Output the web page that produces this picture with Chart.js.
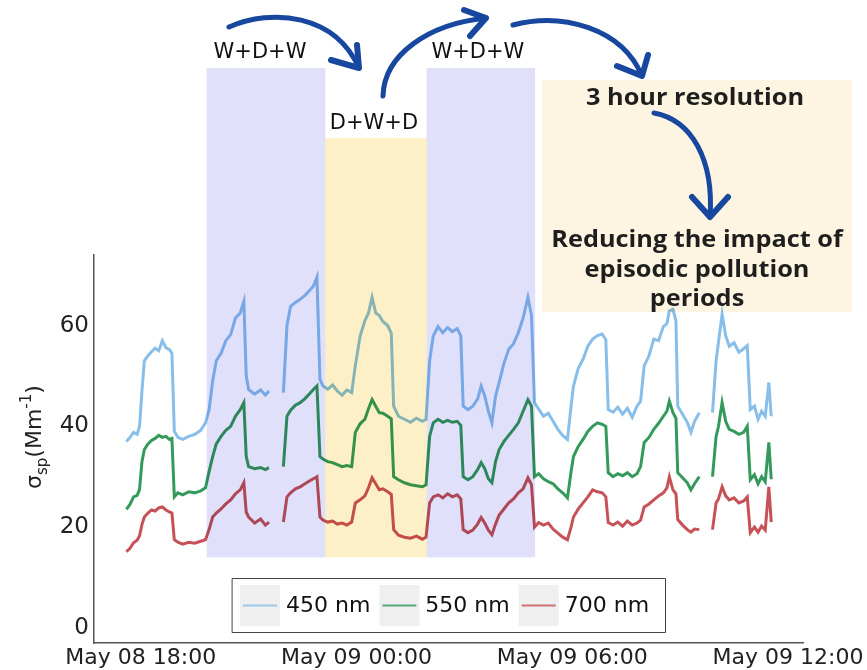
<!DOCTYPE html>
<html>
<head>
<meta charset="utf-8">
<script src="https://cdn.jsdelivr.net/npm/chart.js@4.4.0/dist/chart.umd.min.js"></script>
<style>
  html, body { margin: 0; padding: 0; background: #fff; }
</style>
</head>
<body>
<canvas id="grafico" width="867" height="670"></canvas>
<script>
// Minutos contados a partir de 08/05 18:00
const minutos = [
  -24, -18, -12, -6, -2, 2, 6, 12, 18, 24,
  30, 36, 42, 48, 52, 56, 62, 70, 80, 90,
  100, 108, 114, 120, 126, 134, 142, 150, 158, 166,
  172, 176, 180, 190, 200, 208, 214, 224, 238, 244,
  250, 258, 266, 274, 282, 288, 294, 299, 304, 312,
  320, 328, 336, 344, 352, 358, 366, 374, 380, 386,
  392, 398, 404, 412, 418, 422, 430, 440, 450, 460,
  470, 476, 482, 488, 496, 504, 512, 520, 528, 534,
  538, 546, 554, 562, 568, 574, 580, 586, 592, 598,
  606, 614, 622, 630, 638, 646, 652, 657, 664, 672,
  680, 688, 696, 704, 712, 718, 722, 730, 738, 746,
  754, 762, 770, 776, 780, 788, 796, 804, 812, 820,
  828, 834, 840, 848, 856, 864, 872, 878, 882, 888,
  893, 896, 904, 912, 918, 924, 932, 942, 954, 960,
  964, 970, 976, 982, 990, 998, 1006, 1012, 1017, 1024,
  1030, 1036, 1042, 1048, 1052
];

// Coeficiente de espalhamento (Mm-1) por comprimento de onda
const serie450 = [
  37.0, 37.8, 38.8, 38.4, 40.0, 47.0, 53.0, 54.0, 54.8, 55.5,
  55.0, 57.0, 55.6, 55.2, 54.5, 39.0, 37.8, 37.4, 38.0, 38.4,
  39.2, 40.7, 43.3, 49.0, 53.0, 54.5, 57.0, 58.2, 61.5, 62.5,
  64.8, 50.0, 47.3, 46.4, 47.2, 46.2, 47.0, null, 46.7, 60.0,
  63.8, 64.6, 65.2, 66.0, 67.0, 67.8, 69.6, 49.3, 48.0, 47.4,
  48.2, 47.0, 46.2, 47.2, 46.7, 52.0, 57.9, 61.0, 62.5, 65.6,
  62.5, 62.0, 60.8, 60.0, 58.5, 44.0, 42.0, 41.4, 40.8, 41.6,
  41.0, 41.4, 53.0, 57.9, 59.8, 58.6, 59.6, 58.8, 59.4, 58.0,
  44.0, 43.3, 44.0, 45.4, 48.0, 46.0, 43.0, 40.7, 46.0, 48.7,
  52.5, 55.3, 56.4, 58.6, 61.5, 65.6, 62.0, 44.7, 43.4, 42.0,
  42.6, 41.0, 39.4, 38.2, 37.4, 44.0, 48.0, 51.5, 53.3, 55.9,
  57.3, 58.0, 58.3, 57.2, 43.3, 42.8, 43.8, 42.4, 43.6, 41.8,
  44.0, 45.0, 52.0, 54.0, 57.3, 57.0, 59.8, 60.4, 62.9, 63.2,
  61.0, 44.0, 42.4, 40.8, 38.8, 41.0, 42.7, null, 42.7, 53.0,
  56.7, 62.2, 58.0, 55.9, 56.6, 54.7, 55.4, 56.0, 43.3, 44.0,
  41.4, 43.0, 42.0, 48.7, 42.0
];
const serie550 = [
  23.5, 24.5, 26.0, 26.3, 27.5, 33.0, 35.4, 36.5, 37.2, 37.6,
  38.2, 37.8, 38.0, 37.4, 37.6, 26.0, 26.8, 26.4, 27.0, 26.8,
  27.2, 27.8, 31.0, 34.0, 36.5, 38.0, 39.2, 40.0, 42.0, 43.3,
  44.7, 34.0, 32.0, 31.6, 31.8, 31.4, 31.8, null, 32.0, 42.0,
  43.2, 44.2, 44.7, 45.5, 46.5, 47.3, 48.0, 34.0, 33.5, 33.0,
  32.8, 32.4, 32.0, 32.2, 32.0, 38.8, 40.5, 41.4, 43.5, 45.3,
  44.0, 42.7, 42.6, 42.0, 41.5, 30.0, 29.4, 28.8, 28.4, 28.2,
  28.0, 28.4, 38.0, 40.7, 41.4, 40.8, 41.2, 40.8, 41.0, 40.2,
  30.0, 29.4, 30.0, 31.4, 32.8, 31.6, 29.6, 28.8, 33.0, 35.4,
  37.0, 38.2, 39.4, 40.7, 43.0, 45.3, 44.0, 30.0, 30.6, 29.6,
  29.0, 28.6, 27.6, 26.8, 25.8, 31.0, 34.0, 36.0, 37.4, 39.0,
  40.0, 40.7, 40.4, 40.0, 30.8, 30.0, 30.6, 30.2, 30.8, 30.0,
  30.6, 32.0, 36.8, 37.8, 39.4, 40.6, 42.0, 43.0, 45.0, 42.7,
  41.6, 30.8, 29.8, 28.8, 27.4, 28.6, 30.0, null, 30.0, 38.0,
  40.0, 44.7, 41.0, 39.4, 39.0, 38.4, 38.8, 40.0, 29.4, 30.4,
  28.6, 30.0, 29.0, 36.8, 29.5
];
const serie700 = [
  15.1, 15.8, 16.9, 17.4, 18.3, 20.5, 22.0, 22.8, 23.4, 23.2,
  23.8, 24.0, 23.4, 23.0, 22.8, 17.5, 17.0, 16.6, 17.0, 16.8,
  17.2, 17.5, 19.5, 22.0, 22.8, 23.6, 24.6, 25.4, 26.6, 27.4,
  28.8, 23.0, 22.0, 20.8, 21.6, 20.4, 21.0, null, 21.0, 26.0,
  26.8, 27.6, 28.0, 28.6, 29.2, 29.6, 30.0, 22.0, 21.4, 21.0,
  21.2, 20.6, 20.8, 20.4, 21.0, 24.8, 25.4, 26.2, 27.8, 29.8,
  28.6, 27.4, 27.6, 27.0, 26.5, 19.5, 18.4, 18.0, 17.8, 18.2,
  17.6, 18.0, 24.8, 26.0, 26.4, 25.8, 26.6, 26.0, 26.4, 25.6,
  19.5, 18.9, 19.4, 20.6, 21.9, 20.8, 19.4, 18.5, 20.6, 22.4,
  23.6, 24.8, 25.6, 26.8, 27.6, 29.8, 28.4, 20.0, 20.9, 20.4,
  20.8, 19.6, 18.8, 18.0, 17.5, 20.0, 22.0, 23.6, 24.8, 26.0,
  27.4, 27.0, 26.8, 26.0, 20.9, 20.4, 21.0, 20.2, 21.2, 20.4,
  20.8, 21.4, 24.0, 24.6, 25.4, 26.2, 26.8, 27.8, 30.0, 27.4,
  26.6, 21.5, 20.4, 19.5, 19.0, 19.6, 19.5, null, 19.5, 24.8,
  25.6, 28.0, 26.2, 25.4, 25.8, 24.8, 25.2, 26.0, 18.9, 20.0,
  19.0, 20.2, 19.4, 28.0, 21.0
];

const nomesSeries = ['450 nm', '550 nm', '700 nm'];
const ticksX = [0, 360, 720, 1080];
const rotulosX = ['May 08 18:00', 'May 09 00:00', 'May 09 06:00', 'May 09 12:00'];
const ticksY = [0, 20, 40, 60];

// Janelas de 3 horas (minutos): W+D+W, D+W+D, W+D+W
const janelas = [[110, 308], [308, 477], [477, 658]];
const rotulosJanelas = ['W+D+W', 'D+W+D', 'W+D+W'];

const cores = ['rgb(135,191,234)', 'rgb(52,154,92)', 'rgb(198,82,88)'];
const coresLegenda = ['rgba(135,191,234,0.8)', 'rgba(52,154,92,0.8)', 'rgba(198,82,88,0.8)'];

const pontos = (serie) => serie.map((v, i) => ({ x: minutos[i], y: v }));

function seta(ctx, p0, c1, c2, p1, ponta1, ponta2) {
    ctx.lineWidth = 5;
    ctx.beginPath();
    ctx.moveTo(p0[0], p0[1]);
    ctx.bezierCurveTo(c1[0], c1[1], c2[0], c2[1], p1[0], p1[1]);
    ctx.stroke();
    ctx.lineWidth = 6;
    ctx.beginPath();
    ctx.moveTo(ponta1[0], ponta1[1]);
    ctx.lineTo(p1[0], p1[1]);
    ctx.lineTo(ponta2[0], ponta2[1]);
    ctx.stroke();
}

// texto centralizado e levemente alargado na horizontal
function textoLargo(ctx, texto, xc, yc) {
    ctx.save();
    ctx.translate(xc, yc);
    ctx.scale(1.1, 1);
    ctx.fillText(texto, 0, 0);
    ctx.restore();
}

const anotacoes = {
    id: 'anotacoes',
    afterDatasetsDraw(chart) {
        const { ctx, scales: { x, y } } = chart;
        const base = y.getPixelForValue(14);
        ctx.save();
        ctx.globalCompositeOperation = 'multiply';
        const preenchimentos = ['#e0e0fa', '#fdf0c6', '#e0e0fa'];
        const topos = [68, 138, 68];
        janelas.forEach((j, i) => {
            const x0 = x.getPixelForValue(j[0]);
            const x1 = x.getPixelForValue(j[1]);
            ctx.fillStyle = preenchimentos[i];
            ctx.fillRect(x0, topos[i], x1 - x0, base - topos[i]);
        });
        // caixa do texto da direita
        ctx.fillStyle = '#fdf5e2';
        ctx.fillRect(542, 80, 310, 232);
        ctx.restore();
    },
    afterDraw(chart) {
        const { ctx, scales: { x } } = chart;
        ctx.save();

        // rótulos das janelas
        ctx.fillStyle = '#111';
        ctx.font = '21px "DejaVu Sans"';
        ctx.textAlign = 'center';
        ctx.textBaseline = 'middle';
        const alturas = [53, 124, 53];
        const ajustes = [-6, -2, -3];
        janelas.forEach((j, i) => {
            const xc = (x.getPixelForValue(j[0]) + x.getPixelForValue(j[1])) / 2 + ajustes[i];
            ctx.fillText(rotulosJanelas[i], xc, alturas[i]);
        });

        // textos da caixa
        ctx.fillStyle = '#1e1e1e';
        ctx.font = 'bold 23px "Open Sans"';
        textoLargo(ctx, '3 hour resolution', 695, 98);
        textoLargo(ctx, 'Reducing the impact of', 697, 240);
        textoLargo(ctx, 'episodic pollution', 697, 270);
        textoLargo(ctx, 'periods', 697, 299);

        // setas
        ctx.strokeStyle = '#17479e';
        ctx.lineCap = 'round';
        ctx.lineJoin = 'round';
        seta(ctx, [229, 27], [272, 8], [335, 14], [359, 68], [331, 60], [357, 45]);
        seta(ctx, [383, 96], [384, 55], [428, 24], [486, 18], [464, 10], [470, 36]);
        seta(ctx, [513, 25], [562, 12], [622, 28], [642, 76], [617, 66], [648, 55]);
        seta(ctx, [654, 113], [692, 120], [714, 160], [710, 217], [692, 197], [728, 197]);

        // título do eixo y: sigma_sp(Mm^-1)
        ctx.translate(33, 437);
        ctx.rotate(-Math.PI / 2);
        ctx.fillStyle = '#222';
        ctx.textAlign = 'left';
        ctx.textBaseline = 'alphabetic';
        const partes = [
            ['σ', '22px "DejaVu Sans"', 0],
            ['sp', '15px "DejaVu Sans"', 6],
            ['(Mm', '22px "DejaVu Sans"', 0],
            ['-1', '15px "DejaVu Sans"', -10],
            [')', '22px "DejaVu Sans"', 0]
        ];
        let largura = 0;
        partes.forEach(p => { ctx.font = p[1]; largura += ctx.measureText(p[0]).width; });
        let pos = -largura / 2;
        partes.forEach(p => {
            ctx.font = p[1];
            ctx.fillText(p[0], pos, 8 + p[2]);
            pos += ctx.measureText(p[0]).width;
        });
        ctx.setTransform(1, 0, 0, 1, 0, 0);

        // legenda com moldura
        ctx.fillStyle = '#fff';
        ctx.fillRect(232, 578, 433, 54);
        ctx.strokeStyle = '#444';
        ctx.lineWidth = 1;
        ctx.strokeRect(232.5, 578.5, 433, 54);
        ctx.font = '22px "DejaVu Sans"';
        ctx.textAlign = 'left';
        ctx.textBaseline = 'middle';
        let xl = 240;
        chart.data.datasets.forEach((ds, i) => {
            ctx.fillStyle = '#efefef';
            ctx.fillRect(xl, 585, 40, 41);
            ctx.strokeStyle = coresLegenda[i];
            ctx.lineWidth = 2;
            ctx.lineCap = 'butt';
            ctx.beginPath();
            ctx.moveTo(xl + 3, 605.5);
            ctx.lineTo(xl + 37, 605.5);
            ctx.stroke();
            ctx.fillStyle = '#111';
            ctx.fillText(ds.label, xl + 46, 606);
            xl += 46 + ctx.measureText(ds.label).width + 9;
        });
        ctx.restore();
    }
};

const ctx = document.getElementById('grafico').getContext('2d');

new Chart(ctx, {
    type: 'line',
    data: {
        datasets: [serie450, serie550, serie700].map((serie, i) => ({
            label: nomesSeries[i],
            data: pontos(serie),
            borderColor: cores[i],
            borderWidth: 3,
            pointRadius: 0,
            tension: 0,
            spanGaps: false
        }))
    },
    options: {
        responsive: false,
        animation: false,
        devicePixelRatio: 1,
        layout: { padding: { top: 255, right: 64, left: 0, bottom: 0 } },
        plugins: {
            legend: { display: false },
            tooltip: { enabled: false }
        },
        scales: {
            x: {
                type: 'linear',
                min: -78,
                max: 1105,
                afterBuildTicks: (s) => { s.ticks = ticksX.map(v => ({ value: v })); },
                afterFit: (s) => { s.height = 27; },
                ticks: {
                    callback: (v) => rotulosX[ticksX.indexOf(v)],
                    font: { family: 'DejaVu Sans', size: 22 },
                    color: '#222',
                    maxRotation: 0,
                    autoSkip: false,
                    padding: 2
                },
                grid: { display: false, drawTicks: false },
                border: { display: true, color: '#555', width: 1.5 }
            },
            y: {
                min: -3,
                max: 74,
                afterBuildTicks: (s) => { s.ticks = ticksY.map(v => ({ value: v })); },
                afterFit: (s) => { s.width = 94; },
                ticks: {
                    font: { family: 'DejaVu Sans', size: 23 },
                    color: '#222',
                    padding: 5
                },
                grid: { display: false, drawTicks: false },
                border: { display: true, color: '#555', width: 1.5 }
            }
        }
    },
    plugins: [anotacoes]
});
</script>
</body>
</html>
